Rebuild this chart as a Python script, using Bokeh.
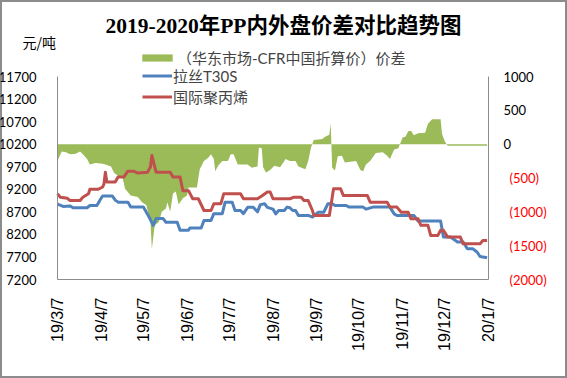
import pandas as pd
from bokeh.plotting import figure
from bokeh.models import Range1d, LinearAxis, FixedTicker, Label, Legend, LegendItem
from bokeh.embed import file_html
from bokeh.resources import INLINE

# ---------------- data ----------------
start_date = "2019-03-07"
tick_dates = ["2019-03-07", "2019-04-07", "2019-05-07", "2019-06-07", "2019-07-07", "2019-08-07",
              "2019-09-07", "2019-10-07", "2019-11-07", "2019-12-07", "2020-01-07"]
tick_labels = ["19/3/7", "19/4/7", "19/5/7", "19/6/7", "19/7/7", "19/8/7",
               "19/9/7", "19/10/7", "19/11/7", "19/12/7", "20/1/7"]
left_ticks = [7200, 7700, 8200, 8700, 9200, 9700, 10200, 10700, 11200, 11700]
right_ticks = [-2000, -1500, -1000, -500, 0, 500, 1000]

# days since start_date
blue_day = [0, 4, 9, 11, 21, 23, 28, 30, 32, 39, 41, 43, 50, 52, 61, 65, 68, 70, 75, 77, 85, 87, 93, 94,
            102, 104, 109, 111, 117, 119, 124, 126, 130, 132, 135, 139, 142, 144, 147, 149, 153, 155,
            157, 161, 163, 165, 167, 169, 171, 178, 181, 185, 189, 192, 195, 197, 205, 207, 217, 219,
            224, 236, 239, 241, 253, 256, 272, 274, 279, 284, 288, 291, 295, 298, 300, 305]
blue_val = [8870, 8820, 8830, 8790, 8790, 8840, 8840, 8950, 9050, 9050, 8960, 8915, 8915, 8805, 8805,
            8585, 8400, 8550, 8550, 8470, 8470, 8290, 8290, 8340, 8340, 8510, 8510, 8660, 8660, 8915,
            8915, 8730, 8730, 8660, 8800, 8800, 8700, 8860, 8880, 8800, 8760, 8655, 8730, 8730, 8805,
            8790, 8730, 8730, 8620, 8620, 8585, 8690, 8690, 8880, 8880, 8840, 8840, 8805, 8805, 8760,
            8805, 8805, 8655, 8620, 8620, 8495, 8495, 8140, 8140, 8030, 8030, 7880, 7880, 7805, 7710, 7680]

red_day = [0, 2, 7, 9, 16, 18, 22, 23, 29, 32, 33, 34, 35, 41, 43, 47, 50, 54, 57, 64, 66, 67, 69, 70,
           80, 82, 87, 89, 93, 96, 100, 104, 109, 111, 116, 118, 130, 132, 142, 145, 149, 151, 153,
           165, 168, 173, 175, 178, 181, 182, 193, 196, 201, 203, 220, 222, 234, 236, 241, 244, 249,
           251, 256, 258, 263, 265, 270, 272, 274, 277, 286, 288, 300, 302, 305]
red_val = [9100, 9025, 9000, 8950, 8950, 9025, 9100, 9200, 9200, 9250, 9320, 9580, 9360, 9360, 9470,
           9470, 9600, 9600, 9560, 9580, 9700, 9950, 9700, 9580, 9580, 9470, 9470, 9170, 9170, 8990,
           8990, 8730, 8730, 8880, 8880, 9100, 9100, 8990, 8990, 9050, 9140, 9140, 8990, 8990, 9025,
           9025, 8950, 8950, 8730, 8620, 8620, 9210, 9210, 9060, 9060, 8915, 8915, 8805, 8805, 8690,
           8690, 8545, 8545, 8400, 8400, 8175, 8175, 8290, 8290, 8140, 8140, 7990, 7990, 8065, 8065]

diff_day = [0, 1, 3, 6, 9, 13, 16, 18, 21, 23, 27, 32, 34, 38, 40, 43, 46, 48, 52, 57, 60, 63, 65, 66,
            67, 69, 72, 74, 77, 78, 80, 82, 84, 86, 89, 92, 93, 99, 101, 104, 107, 109, 111, 112, 114,
            117, 121, 123, 125, 128, 135, 138, 142, 143, 145, 146, 148, 151, 154, 158, 162, 165, 169,
            171, 176, 178, 180, 182, 188, 190, 193, 194, 195, 197, 199, 202, 204, 212, 215, 217, 219,
            222, 226, 231, 234, 236, 239, 242, 245, 247, 249, 251, 253, 256, 261, 263, 266, 272, 273,
            275, 277, 305]
diff_val = [-250, -200, -110, -120, -150, -140, -110, -150, -220, -300, -280, -290, -300, -330, -420,
            -470, -480, -660, -760, -780, -860, -900, -1060, -1150, -1550, -1200, -1150, -1000, -950,
            -860, -1000, -730, -700, -890, -800, -760, -640, -640, -370, -250, -200, -150, -220, -400,
            -320, -250, -250, -150, -150, -300, -300, -350, -330, -50, -60, -340, -420, -380, -320,
            -340, -220, -250, -250, -330, -370, -250, -50, 60, 75, 110, 140, 300, -350, -390, -180,
            -170, -270, -250, -380, -400, -300, -250, -130, -120, -170, -220, -80, -60, 100, 110, 190,
            200, 130, 160, 170, 300, 370, 370, 150, 40, -25, -25]

name_diff = "（华东市场-CFR中国折算价）价差"
name_blue = "拉丝T30S"
name_red = "国际聚丙烯"
title_text = "2019-2020年PP内外盘价差对比趋势图"
unit_text = "元/吨"

# ---------------- layout (pixels) ----------------
W, H = 567, 378
FL, FR, FT, FB = 57, 488, 76, 279          # plot-area edges inside the canvas

start = pd.Timestamp(start_date)
tick_x = [(pd.Timestamp(d) - start).days for d in tick_dates]
x0, x1 = tick_x[0], tick_x[-1]
xs = (x1 - x0) / (FR - FL)
y0, y1 = left_ticks[0], left_ticks[-1]
ys = (y1 - y0) / (FB - FT)
r0, r1 = right_ticks[0], right_ticks[-1]
rs = (r1 - r0) / (FB - FT)

p = figure(width=W, height=H, output_backend="svg", toolbar_location=None,
           x_axis_location=None, y_axis_location=None,
           x_range=Range1d(x0 - FL * xs, x1 + (W - FR) * xs),
           y_range=Range1d(y0 - (H - FB) * ys, y1 + FT * ys),
           min_border=0)
p.extra_y_ranges = {"diff": Range1d(r0 - (H - FB) * rs, r1 + FT * rs)}
p.styles = {"position": "absolute", "left": "0px", "top": "0px"}
p.background_fill_color = "white"
p.border_fill_color = "white"
p.outline_line_color = "#8c8c8c"
p.outline_line_width = 3
p.xgrid.visible = False
p.ygrid.visible = False

GREEN, BLUE, RED = "#9BBB59", "#4F81BD", "#C0504D"
AXC = "#8c8c8c"
LEG_FONT = "Lato, Noto Sans CJK SC"

r_area = p.varea(x=diff_day, y1=[0] * len(diff_day), y2=diff_val, fill_color=GREEN,
                 y_range_name="diff")
r_blue = p.line(blue_day, blue_val, line_color=BLUE, line_width=3, line_join="round")
r_red = p.line(red_day, red_val, line_color=RED, line_width=3, line_join="round")


def style_axis(ax, font, size, color, standoff):
    ax.major_label_text_font = font
    ax.major_label_text_font_size = size
    ax.major_label_text_color = color
    ax.major_label_standoff = standoff
    ax.axis_line_color = AXC
    ax.major_tick_line_color = None
    ax.minor_tick_line_color = None


# x axis
xa = LinearAxis(ticker=FixedTicker(ticks=tick_x), fixed_location=y0, bounds=(x0, x1))
xa.major_label_overrides = {int(t): lab for t, lab in zip(tick_x, tick_labels)}
xa.major_label_orientation = 3.14159265 / 2
style_axis(xa, "Liberation Sans", "16px", "black", 12)
p.add_layout(xa, "below")

# left y axis
ya = LinearAxis(ticker=FixedTicker(ticks=left_ticks), fixed_location=x0, bounds=(y0, y1))
style_axis(ya, "Lato", "13px", "black", 15)
p.add_layout(ya, "left")

# right y axis (negative labels red, in parentheses)
ra = LinearAxis(y_range_name="diff", ticker=FixedTicker(ticks=right_ticks), fixed_location=x1,
                bounds=(r0, r1))
ra.major_label_overrides = {v: ("(%d)" % (-v) if v < 0 else "") for v in right_ticks}
style_axis(ra, "Lato", "13px", "#FF0000", 15)
p.add_layout(ra, "right")

for v in right_ticks:
    if v >= 0:
        p.add_layout(Label(x=FR + 15, y=v, x_units="screen", y_range_name="diff", text=str(v),
                           text_align="left", text_baseline="middle", text_font="Lato",
                           text_font_size="13px", text_color="black"))

# title and unit
p.add_layout(Label(x=283, y=H - 25, x_units="screen", y_units="screen", text=title_text,
                   text_align="center", text_baseline="middle",
                   text_font="Liberation Serif, Noto Sans CJK SC", text_font_size="21.5px",
                   text_font_style="bold", text_color="black"))
p.add_layout(Label(x=22, y=H - 41, x_units="screen", y_units="screen", text=unit_text,
                   text_align="left", text_baseline="middle",
                   text_font="Noto Sans CJK SC", text_font_size="14px", text_color="black"))

# legends (location = bottom-left corner, pixels from the canvas bottom-left)
leg_a = Legend(items=[LegendItem(label=name_diff, renderers=[r_area])], location=(138, H - 67.5),
               glyph_width=38, glyph_height=9, label_height=19, label_standoff=1, padding=0,
               margin=0, spacing=0, border_line_color=None, background_fill_alpha=0,
               label_text_font=LEG_FONT, label_text_font_size="15px")
leg_b = Legend(items=[LegendItem(label=name_blue, renderers=[r_blue]),
                      LegendItem(label=name_red, renderers=[r_red])], location=(142, H - 106.5),
               glyph_width=30, glyph_height=19, label_height=19, label_standoff=1, padding=0,
               margin=0, spacing=0, border_line_color=None, background_fill_alpha=0,
               label_text_font=LEG_FONT, label_text_font_size="15px")
p.add_layout(leg_a, "center")
p.add_layout(leg_b, "center")

open("out.html", "w").write(file_html(p, INLINE))
